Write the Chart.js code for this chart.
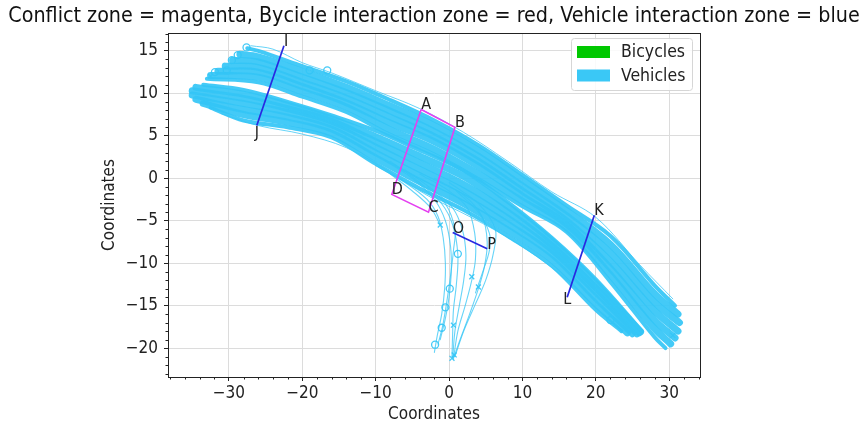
<!DOCTYPE html>
<html>
<head>
<meta charset="utf-8">
<script src="https://cdn.jsdelivr.net/npm/chart.js@4.4.1/dist/chart.umd.min.js"></script>
<style>
  html, body { margin: 0; padding: 0; background: #fff; }
  #chart { display: block; }
</style>
</head>
<body>
<canvas id="chart" width="860" height="430"></canvas>
<script>
// ---- data ----
const titleText = 'Conflict zone = magenta, Bycicle interaction zone = red, Vehicle interaction zone = blue';
const axisTitle = 'Coordinates';
const xTicks = [-30, -20, -10, 0, 10, 20, 30];
const yTicks = [-20, -15, -10, -5, 0, 5, 10, 15];
const xRange = [-38.3, 34.2];
const yRange = [-23.4, 17.1];

const legendNames = ['Bicycles', 'Vehicles'];
const legendColors = ['#00c800', '#3ac8f6'];

// conflict zone (magenta) corners and their labels
const conflictZone = [[-3.8, 8.1], [0.8, 6.0], [-2.8, -4.0], [-7.8, -1.9]];
const conflictLabels = ['A', 'B', 'C', 'D'];

// vehicle interaction zones (blue) end points and labels
const vehicleZones = [
    [[-22.5, 15.6], [-26.2, 6.2]],
    [[19.8, -4.35], [16.1, -14.0]],
    [[0.5, -6.4], [5.2, -8.3]]
];
const vehicleLabels = [['I', 'J'], ['K', 'L'], ['O', 'P']];
// labels that sit on/below their end point instead of above-right
const labelPlacement = { J: ['center', 'top'], L: ['center', 'middle'] };

// vehicle tracks, upper lane (top to bottom across the lane)
const upperLane = [
    [[-27.5, 15.3], [-26, 15.0], [-20, 13.2], [-14, 11.4], [-8, 9.2], [-2, 6.8], [4, 3.9], [10, 0.4], [16, -3.2], [22, -6.8], [28, -12.6], [30.8, -15.0]],
    [[-28.5, 14.6], [-26, 14.3], [-20, 12.6], [-14, 10.7], [-8, 8.5], [-2, 6.2], [4, 3.3], [10, -0.2], [16, -3.8], [22, -7.8], [28, -13.6], [31.2, -16.0]],
    [[-29.5, 13.9], [-26, 13.7], [-20, 11.9], [-14, 10.1], [-8, 7.9], [-2, 5.5], [4, 2.6], [10, -0.9], [16, -4.4], [22, -8.8], [28, -14.6], [31.4, -17.0]],
    [[-30.5, 13.2], [-26, 13.05], [-20, 11.3], [-14, 9.45], [-8, 7.2], [-2, 4.9], [4, 2.0], [10, -1.5], [16, -5.0], [22, -9.8], [28, -15.6], [31.2, -18.0]],
    [[-31.5, 12.6], [-26, 12.5], [-20, 10.8], [-14, 8.9], [-8, 6.5], [-2, 4.3], [4, 1.4], [10, -2.1], [16, -5.4], [22, -10.6], [28, -16.7], [30.8, -18.8]],
    [[-32.5, 12.1], [-26, 11.9], [-20, 10.2], [-14, 8.4], [-8, 5.7], [-2, 3.4], [4, 0.5], [10, -2.7], [16, -5.8], [22, -11.4], [28, -17.7], [30.2, -19.5]],
    [[-33.0, 11.7], [-26, 11.3], [-20, 9.6], [-14, 7.8], [-8, 5.1], [-2, 2.8], [4, -0.1], [10, -3.3], [16, -6.3], [22, -12.2], [28, -18.7], [29.5, -20.0]]
];

// vehicle tracks, lower lane
const lowerLane = [
    [[-33.5, 11.0], [-28, 10.4], [-22, 9.0], [-16, 7.4], [-10, 5.6], [-4, 3.3], [2, 0.9], [8, -2.8], [14, -7.0], [20, -11.9], [26.3, -18.0]],
    [[-34.5, 10.7], [-28, 9.9], [-22, 8.6], [-16, 7.0], [-10, 4.9], [-4, 2.6], [2, 0.2], [8, -3.3], [14, -7.4], [20, -12.4], [26.1, -18.1]],
    [[-35.0, 10.3], [-28, 9.4], [-22, 8.2], [-16, 6.7], [-10, 4.3], [-4, 1.8], [2, -0.75], [8, -4.0], [14, -7.9], [20, -12.9], [25.9, -18.2]],
    [[-35.0, 9.8], [-28, 8.8], [-22, 7.75], [-16, 6.3], [-10, 3.65], [-4, 1.05], [2, -1.5], [8, -4.7], [14, -8.4], [20, -13.4], [25.6, -18.3]],
    [[-34.5, 9.3], [-28, 8.1], [-22, 7.2], [-16, 5.8], [-10, 3.0], [-4, 0.3], [2, -2.25], [8, -5.4], [14, -8.9], [20, -14.1], [25.0, -18.3]],
    [[-33.5, 8.8], [-28, 7.5], [-22, 6.6], [-16, 5.3], [-10, 2.4], [-4, -0.4], [2, -3.0], [8, -6.1], [14, -9.6], [20, -14.8], [24.3, -18.2]],
    [[-32.5, 8.3], [-28, 6.8], [-22, 6.0], [-16, 4.8], [-10, 1.7], [-4, -1.2], [2, -3.75], [8, -6.8], [14, -10.3], [20, -15.5], [23.5, -18.0]]
];

// thin stray tracks along the outer edges of the two lanes
const edgeTracks = [
    [[-27, 15.6], [-24, 15.2], [-20, 13.6], [-16, 12.4], [-10, 10.3], [-4, 8.2], [2, 5.4], [8, 2.0], [14, -1.6], [20, -4.6], [26, -10.2], [30.5, -14.2]],
    [[-31, 7.6], [-26, 6.2], [-20, 5.2], [-14, 3.6], [-8, 0.7], [-3, -2.0], [3, -4.6], [9, -7.5], [15, -11.2], [20, -15.2], [23, -17.4]]
];

// vehicles turning south near the conflict zone
const turningTracks = [
    [[-10, 1.5], [-6, -0.5], [-3, -2.5], [-1.5, -4.5], [-0.8, -7], [-0.5, -10], [-0.6, -13], [-1.0, -16], [-1.6, -18.5], [-2.0, -20.5]],
    [[-9, 2.2], [-5, 0], [-2, -2.5], [-0.5, -5], [0.2, -8], [0.3, -11], [0, -14], [-0.5, -16.5], [-1.2, -19]],
    [[-8, 2], [-4, -0.5], [-1, -3], [0.5, -5.5], [1.2, -9], [1.0, -12.5], [0.6, -15.5], [0.5, -18], [0.4, -21]],
    [[-6, 1], [-2, -1.5], [0.5, -3.5], [1.8, -6], [2.3, -9], [2.0, -12], [1.4, -15], [0.8, -18], [0.5, -21.2]],
    [[-4, 0.5], [0, -1.5], [2.5, -3.5], [3.5, -6.5], [3.6, -9.5], [3.1, -12], [2.2, -15], [1.2, -18], [0.6, -21.3]],
    [[-2, 0], [2, -2], [4.5, -4.5], [5.2, -7.5], [4.8, -10.5], [4.0, -13], [2.8, -16], [1.5, -19], [0.7, -21]],
    [[0, -0.5], [4, -3], [6.3, -6], [6.0, -9], [5.0, -12], [3.5, -15], [2.0, -18], [0.8, -21]],
    [[-8, 0.5], [-5, -1.5], [-2.5, -3.5], [-1.2, -5.5]],
    [[-3, -1], [-0.5, -3], [0.8, -6], [0.6, -8.5], [0.2, -11.5], [-0.3, -14.5], [-0.9, -17.5], [-1.5, -19.5]],
    [[1, -1.5], [4, -4], [5.5, -6.5], [5.5, -8.5], [4.6, -11], [3.6, -13.5]]
];

const circleMarks = [[-31.9, 12.5], [-30.3, 12.7], [-29.6, 13.9], [-28.8, 14.5], [-27.6, 15.4], [-19, 12.7], [-16.6, 12.7],
    [-1.9, -19.6], [-1.0, -17.6], [-0.5, -15.2], [0.1, -13], [1.2, -8.9], [22, -16.7]];
const crossMarks = [[-1.2, -5.5], [3.1, -11.6], [4.0, -12.8], [0.6, -17.3], [0.4, -21.2], [0.7, -20.8], [30.5, -18.5], [-32.5, 12.0]];

// ---- styling ----
const FONT = "'DejaVu Sans Condensed', 'DejaVu Sans', sans-serif";
const VEH = 'rgba(52, 198, 246, 0.92)';
const VEH_THIN = 'rgba(52, 198, 246, 0.75)';
const MAGENTA = 'rgb(228, 64, 240)';
const ZBLUE = 'rgb(40, 40, 225)';

function toXY(points) {
    return points.map(p => ({ x: p[0], y: p[1] }));
}

function trackSet(points, width, color) {
    return {
        data: toXY(points),
        showLine: true,
        borderColor: color,
        borderWidth: width,
        borderCapStyle: 'round',
        borderJoinStyle: 'round',
        pointRadius: 0,
        tension: 0.35,
        order: 3
    };
}

let datasets = [];

// zones on top
datasets.push({
    data: toXY(conflictZone.concat([conflictZone[0]])),
    showLine: true, borderColor: MAGENTA, borderWidth: 1.6, pointRadius: 0, order: 0
});
vehicleZones.forEach(z => {
    datasets.push({
        data: toXY(z),
        showLine: true, borderColor: ZBLUE, borderWidth: 1.7, pointRadius: 0, order: 0
    });
});

// markers
datasets.push({
    data: toXY(circleMarks), pointStyle: 'circle', pointRadius: 3.5,
    pointBorderColor: VEH, pointBackgroundColor: 'rgba(0,0,0,0)', pointBorderWidth: 1.3, order: 1
});
datasets.push({
    data: toXY(crossMarks), pointStyle: 'crossRot', pointRadius: 3.5,
    pointBorderColor: VEH, pointBorderWidth: 1.3, order: 1
});

upperLane.forEach((t, i) => {
    let edge = (i === 0 || i === upperLane.length - 1);
    datasets.push(trackSet(t, edge ? 4 : 7, VEH));
});
lowerLane.forEach((t, i) => {
    let edge = (i === 0 || i === lowerLane.length - 1);
    datasets.push(trackSet(t, edge ? 4 : 7, VEH));
});
edgeTracks.forEach(t => {
    datasets.push(trackSet(t, 1, VEH_THIN));
});
turningTracks.forEach(t => {
    datasets.push(trackSet(t, 1.1, VEH_THIN));
});

const decorPlugin = {
    id: 'decor',
    afterDatasetsDraw(chart) {
        const ctx = chart.ctx;
        const xs = chart.scales.x, ys = chart.scales.y;
        const area = chart.chartArea;

        // point labels
        ctx.save();
        ctx.fillStyle = '#222';
        ctx.font = '16px ' + FONT;
        function putLabel(text, p) {
            let place = labelPlacement[text] || ['left', 'alphabetic'];
            ctx.textAlign = place[0];
            ctx.textBaseline = place[1];
            let py = ys.getPixelForValue(p[1]);
            if (place[1] === 'middle') py += 3;
            ctx.fillText(text, xs.getPixelForValue(p[0]), py);
        }
        conflictZone.forEach((p, i) => putLabel(conflictLabels[i], p));
        vehicleZones.forEach((z, i) => {
            z.forEach((p, j) => putLabel(vehicleLabels[i][j], p));
        });
        ctx.restore();

        // frame
        ctx.save();
        ctx.strokeStyle = '#222';
        ctx.lineWidth = 1;
        ctx.strokeRect(Math.round(area.left) + 0.5, Math.round(area.top) + 0.5,
            Math.round(area.right - area.left), Math.round(area.bottom - area.top));

        // minor ticks
        ctx.beginPath();
        for (let v = -38; v <= 34; v += 2) {
            if (v % 10 === 0) continue;
            let px = Math.round(xs.getPixelForValue(v)) + 0.5;
            ctx.moveTo(px, area.bottom);
            ctx.lineTo(px, area.bottom + 2.5);
        }
        for (let v = -23; v <= 17; v += 1) {
            if (v % 5 === 0) continue;
            let py = Math.round(ys.getPixelForValue(v)) + 0.5;
            ctx.moveTo(area.left, py);
            ctx.lineTo(area.left - 2.5, py);
        }
        ctx.stroke();
        ctx.restore();

        // legend
        ctx.save();
        const lx = 571, ly = 38, lw = 121, lh = 52;
        ctx.fillStyle = 'rgba(255,255,255,0.85)';
        ctx.strokeStyle = '#d6d6d6';
        ctx.lineWidth = 1;
        ctx.beginPath();
        ctx.roundRect(lx + 0.5, ly + 0.5, lw, lh, 3);
        ctx.fill();
        ctx.stroke();
        ctx.font = '17.5px ' + FONT;
        ctx.textAlign = 'left';
        ctx.textBaseline = 'middle';
        legendNames.forEach((name, i) => {
            let cy = 52 + i * 23.5;
            ctx.fillStyle = legendColors[i];
            ctx.fillRect(577, cy - 6, 33, 12);
            ctx.fillStyle = '#222';
            ctx.fillText(name, 621, cy + 0.5);
        });
        ctx.restore();

        // titles
        ctx.save();
        ctx.fillStyle = '#111';
        ctx.textAlign = 'center';
        ctx.textBaseline = 'middle';
        ctx.font = '21.3px ' + FONT;
        ctx.fillText(titleText, (area.left + area.right) / 2, 16);
        ctx.font = '17px ' + FONT;
        ctx.fillStyle = '#222';
        ctx.fillText(axisTitle, (area.left + area.right) / 2, 415);
        ctx.translate(110, (area.top + area.bottom) / 2);
        ctx.rotate(-Math.PI / 2);
        ctx.fillText(axisTitle, 0, 0);
        ctx.restore();
    }
};

function minusSign(v) {
    return String(v).replace('-', '\u2212');
}

new Chart(document.getElementById('chart'), {
    type: 'scatter',
    data: { datasets: datasets },
    options: {
        responsive: false,
        animation: false,
        layout: { padding: { left: 0, right: 160, top: 33, bottom: 0 } },
        plugins: {
            legend: { display: false },
            tooltip: { enabled: false },
            title: { display: false }
        },
        scales: {
            x: {
                type: 'linear',
                min: xRange[0], max: xRange[1],
                afterBuildTicks: s => { s.ticks = xTicks.map(v => ({ value: v })); },
                afterFit: s => { s.height = 53; },
                ticks: {
                    font: { family: FONT, size: 17 }, color: '#222', padding: 2,
                    callback: v => minusSign(v)
                },
                grid: { color: '#dcdcdc', lineWidth: 1, tickLength: 4, tickColor: '#222' },
                border: { display: true, color: '#222', width: 1 }
            },
            y: {
                type: 'linear',
                min: yRange[0], max: yRange[1],
                afterBuildTicks: s => { s.ticks = yTicks.map(v => ({ value: v })); },
                afterFit: s => { s.width = 168; },
                ticks: {
                    font: { family: FONT, size: 17 }, color: '#222', padding: 6,
                    callback: v => minusSign(v)
                },
                grid: { color: '#dcdcdc', lineWidth: 1, tickLength: 4, tickColor: '#222' },
                border: { display: true, color: '#222', width: 1 }
            }
        }
    },
    plugins: [decorPlugin]
});
</script>
</body>
</html>
